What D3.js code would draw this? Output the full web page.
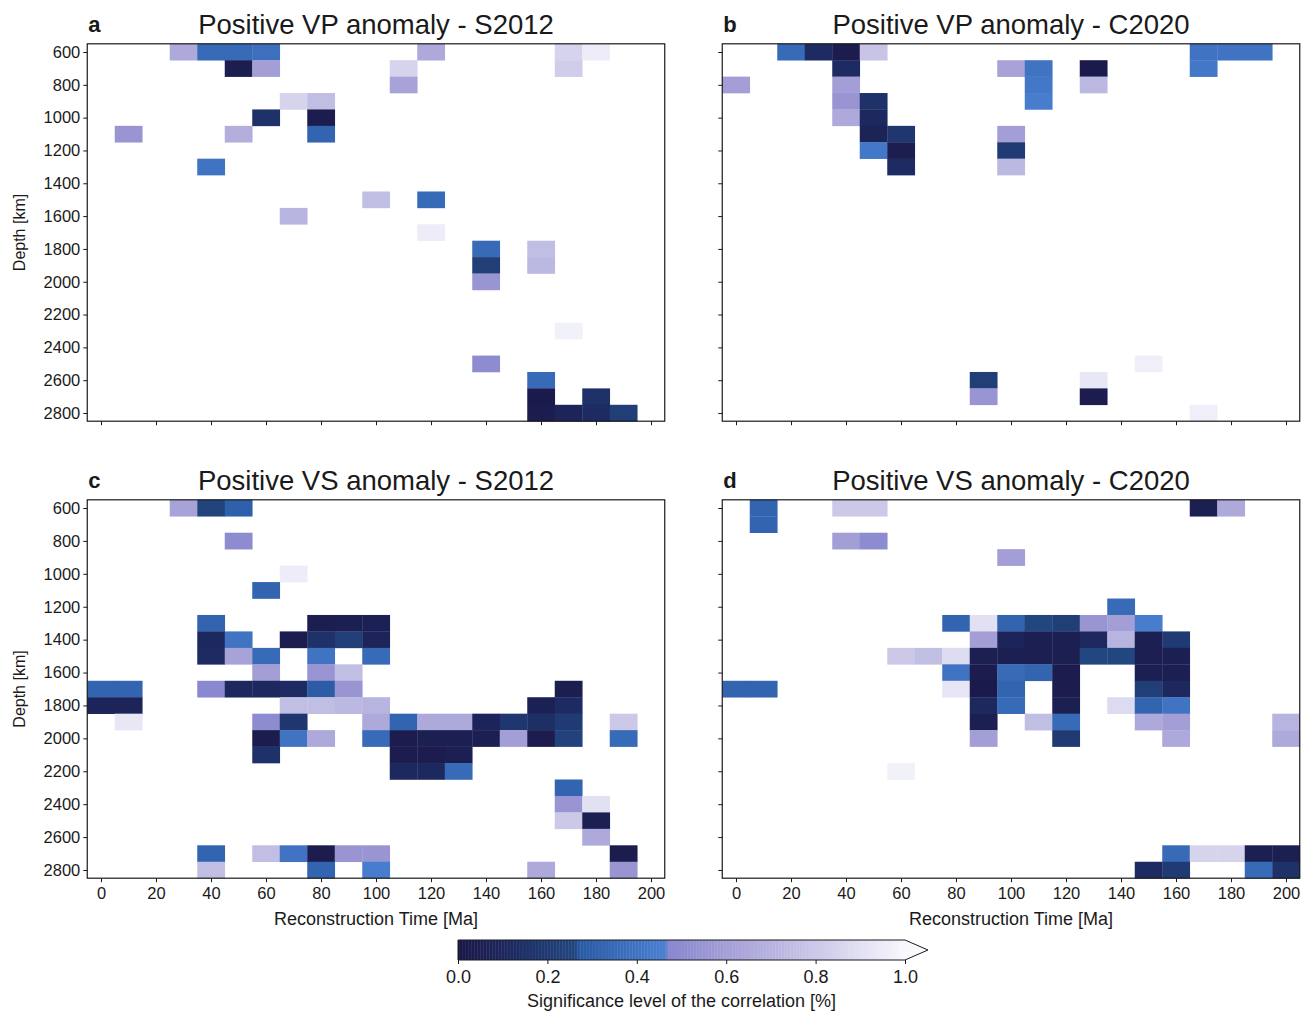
<!DOCTYPE html>
<html>
<head>
<meta charset="utf-8">
<script src="https://cdn.jsdelivr.net/npm/d3@7"></script>
<style>
  html, body { margin: 0; padding: 0; background: #fff; }
  svg { display: block; }
  text { font-family: "Liberation Sans", Arial, Helvetica, sans-serif; fill: #1a1a1a; }
</style>
</head>
<body>
<svg id="chart" width="1303" height="1011"></svg>
<script>
// ---------------- data ----------------
const timeTicks = [0, 20, 40, 60, 80, 100, 120, 140, 160, 180, 200];
const depthTicks = [600, 800, 1000, 1200, 1400, 1600, 1800, 2000, 2200, 2400, 2600, 2800];
const cbarTicks = [0.0, 0.2, 0.4, 0.6, 0.8, 1.0];
const panelLetters = ["a", "b", "c", "d"];
const panelTitles = [
  "Positive VP anomaly - S2012",
  "Positive VP anomaly - C2020",
  "Positive VS anomaly - S2012",
  "Positive VS anomaly - C2020"
];
// cells: [reconstruction time (Ma), depth (km), significance level]
const cellsA = [
  [30,600,0.65],[40,600,0.35],[50,600,0.35],[60,600,0.38],
  [50,700,0.04],[60,700,0.6],
  [70,900,0.85],[80,900,0.75],
  [60,1000,0.15],[80,1000,0.03],
  [10,1100,0.55],[50,1100,0.68],[80,1100,0.32],
  [40,1300,0.4],
  [100,1500,0.75],[120,1500,0.35],
  [70,1600,0.7],
  [120,600,0.65],[110,700,0.85],[110,800,0.62],
  [170,600,0.85],[170,700,0.82],[180,600,0.95],
  [120,1700,0.95],[170,2300,0.97],
  [140,1800,0.35],[140,1900,0.22],[140,2000,0.55],
  [160,1800,0.75],[160,1900,0.72],
  [140,2500,0.5],
  [160,2600,0.35],[160,2700,0.02],[180,2700,0.15],
  [160,2800,0.03],[170,2800,0.08],[180,2800,0.12],[190,2800,0.22]
];
const cellsB = [
  [20,600,0.35],[30,600,0.12],[40,600,0.03],[50,600,0.78],
  [40,700,0.12],
  [0,800,0.6],[40,800,0.6],
  [40,900,0.55],[50,900,0.15],
  [40,1000,0.65],[50,1000,0.1],
  [50,1100,0.07],[60,1100,0.18],
  [50,1200,0.42],[60,1200,0.04],
  [60,1300,0.12],
  [100,700,0.62],[110,700,0.4],[110,800,0.42],[110,900,0.45],
  [130,700,0.02],[130,800,0.72],
  [100,1100,0.6],[100,1200,0.2],[100,1300,0.72],
  [170,600,0.4],[180,600,0.4],[190,600,0.4],[170,700,0.42],
  [90,2600,0.22],[90,2700,0.55],
  [130,2600,0.93],[130,2700,0.03],
  [150,2500,0.96],[170,2800,0.96]
];
const cellsC = [
  [30,600,0.62],[40,600,0.25],[50,600,0.3],
  [50,800,0.5],
  [70,1000,0.95],
  [60,1100,0.32],
  [40,1300,0.32],[80,1300,0.04],[90,1300,0.05],[100,1300,0.06],
  [40,1400,0.1],[50,1400,0.4],[70,1400,0.03],[80,1400,0.15],[90,1400,0.22],[100,1400,0.08],
  [40,1500,0.12],[50,1500,0.62],[60,1500,0.35],[80,1500,0.4],[100,1500,0.35],
  [60,1600,0.6],[80,1600,0.55],[90,1600,0.75],
  [0,1700,0.32],[10,1700,0.32],[40,1700,0.48],[50,1700,0.1],[60,1700,0.1],[70,1700,0.12],[80,1700,0.28],[90,1700,0.55],[170,1700,0.04],
  [0,1800,0.08],[10,1800,0.08],[70,1800,0.75],[80,1800,0.75],[90,1800,0.72],[100,1800,0.7],[160,1800,0.06],[170,1800,0.12],
  [10,1900,0.93],[60,1900,0.5],[70,1900,0.18],[100,1900,0.65],[110,1900,0.32],[120,1900,0.65],[130,1900,0.65],[140,1900,0.08],[150,1900,0.18],[160,1900,0.14],[170,1900,0.2],[190,1900,0.8],
  [60,2000,0.03],[70,2000,0.4],[80,2000,0.65],[100,2000,0.35],[110,2000,0.03],[120,2000,0.05],[130,2000,0.05],[140,2000,0.05],[150,2000,0.6],[160,2000,0.03],[170,2000,0.24],[190,2000,0.35],
  [60,2100,0.15],[110,2100,0.03],[120,2100,0.03],[130,2100,0.05],
  [110,2200,0.1],[120,2200,0.1],[130,2200,0.35],
  [170,2300,0.32],
  [170,2400,0.55],[180,2400,0.9],
  [170,2500,0.8],[180,2500,0.05],
  [180,2600,0.65],
  [40,2700,0.32],[60,2700,0.75],[70,2700,0.4],[80,2700,0.03],[90,2700,0.55],[100,2700,0.55],[190,2700,0.03],
  [40,2800,0.75],[80,2800,0.32],[100,2800,0.45],[160,2800,0.65],[190,2800,0.55]
];
const cellsD = [
  [10,600,0.32],[40,600,0.8],[50,600,0.8],[170,600,0.05],[180,600,0.65],
  [10,700,0.32],
  [40,800,0.6],[50,800,0.5],
  [100,900,0.6],
  [140,1200,0.35],
  [80,1300,0.32],[90,1300,0.9],[100,1300,0.32],[110,1300,0.26],[120,1300,0.22],[130,1300,0.55],[140,1300,0.6],[150,1300,0.45],
  [90,1400,0.6],[100,1400,0.08],[110,1400,0.05],[120,1400,0.05],[130,1400,0.1],[140,1400,0.7],[150,1400,0.05],[160,1400,0.2],
  [60,1500,0.8],[70,1500,0.75],[80,1500,0.88],[90,1500,0.05],[100,1500,0.05],[110,1500,0.05],[120,1500,0.05],[130,1500,0.26],[140,1500,0.26],[150,1500,0.05],[160,1500,0.05],
  [80,1600,0.4],[90,1600,0.03],[100,1600,0.35],[110,1600,0.32],[120,1600,0.03],[150,1600,0.05],[160,1600,0.05],
  [0,1700,0.32],[10,1700,0.32],[80,1700,0.92],[90,1700,0.02],[100,1700,0.32],[120,1700,0.03],[150,1700,0.22],[160,1700,0.1],
  [90,1800,0.1],[100,1800,0.35],[120,1800,0.05],[140,1800,0.88],[150,1800,0.32],[160,1800,0.4],
  [90,1900,0.05],[110,1900,0.75],[120,1900,0.35],[150,1900,0.65],[160,1900,0.6],[200,1900,0.7],
  [90,2000,0.6],[120,2000,0.2],[160,2000,0.65],[200,2000,0.65],
  [60,2200,0.97],
  [160,2700,0.35],[170,2700,0.85],[180,2700,0.85],[190,2700,0.05],[200,2700,0.05],
  [150,2800,0.12],[160,2800,0.2],[190,2800,0.35],[200,2800,0.15]
];
const panelCells = [cellsA, cellsB, cellsC, cellsD];

// colour map (significance 0 -> 1)
const cmapStops = [0, 0.12, 0.26, 0.27, 0.46, 0.47, 0.6, 0.8, 1.0];
const cmapColors = ["#1b1747", "#1d2b62", "#22467f", "#2a5aa4", "#4a7fd0", "#8886cf", "#a39fd6", "#cbc8e8", "#f8f8fd"];
const color = d3.scaleLinear().domain(cmapStops).range(cmapColors).interpolate(d3.interpolateRgb).clamp(true);

// ---------------- layout ----------------
const svg = d3.select("#chart");
const panels = [
  {x0: 87.25, x1: 664.75, y0: 43.8, y1: 421.2, yLabels: true, xLabels: false},
  {x0: 722.25, x1: 1299.75, y0: 43.8, y1: 421.2, yLabels: false, xLabels: false},
  {x0: 87.25, x1: 664.75, y0: 499.8, y1: 878.2, yLabels: true, xLabels: true},
  {x0: 722.25, x1: 1299.75, y0: 499.8, y1: 878.2, yLabels: false, xLabels: true}
];
const FONT = '"Liberation Sans", Arial, sans-serif';

panels.forEach((p, i) => {
  const xs = d3.scaleLinear().domain([-5, 205]).range([p.x0, p.x1]);
  const ys = d3.scaleLinear().domain([550, 2850]).range([p.y0, p.y1]);
  const g = svg.append("g");

  g.append("g").selectAll("rect").data(panelCells[i]).join("rect")
    .attr("x", d => xs(d[0] - 5))
    .attr("y", d => ys(d[1] - 50))
    .attr("width", d => xs(d[0] + 5) - xs(d[0] - 5) + 0.3)
    .attr("height", d => ys(d[1] + 50) - ys(d[1] - 50) + 0.3)
    .attr("fill", d => color(d[2]));

  // frame
  g.append("rect").attr("x", p.x0).attr("y", p.y0)
    .attr("width", p.x1 - p.x0).attr("height", p.y1 - p.y0)
    .attr("fill", "none").attr("stroke", "#1a1a1a").attr("stroke-width", 1.2);

  // axes
  const yAxis = d3.axisLeft(ys).tickValues(depthTicks).tickSize(4).tickPadding(3)
    .tickFormat(p.yLabels ? d3.format("d") : () => "");
  const ya = g.append("g").attr("transform", `translate(${p.x0},0)`).call(yAxis);
  const xAxis = d3.axisBottom(xs).tickValues(timeTicks).tickSize(4).tickPadding(5)
    .tickFormat(p.xLabels ? d3.format("d") : () => "");
  const xa = g.append("g").attr("transform", `translate(0,${p.y1})`).call(xAxis);
  [ya, xa].forEach(a => {
    a.select(".domain").remove();
    a.selectAll(".tick line").attr("stroke", "#1a1a1a").attr("stroke-width", 1);
    a.selectAll(".tick text").attr("font-size", 16.5).attr("fill", "#1a1a1a")
      .style("font-family", FONT);
  });

  const cx = (p.x0 + p.x1) / 2;
  g.append("text").attr("x", cx).attr("y", p.y0 - 10).attr("text-anchor", "middle")
    .attr("font-size", 27.5).text(panelTitles[i]);
  g.append("text").attr("x", p.x0 + 1).attr("y", p.y0 - 12)
    .attr("font-size", 22).attr("font-weight", "bold").text(panelLetters[i]);

  if (p.yLabels) {
    g.append("text")
      .attr("transform", `translate(25,${(p.y0 + p.y1) / 2}) rotate(-90)`)
      .attr("text-anchor", "middle").attr("font-size", 16).text("Depth [km]");
  }
  if (p.xLabels) {
    g.append("text").attr("x", cx).attr("y", p.y1 + 47).attr("text-anchor", "middle")
      .attr("font-size", 18).text("Reconstruction Time [Ma]");
  }
});

// ---------------- colour bar ----------------
const cb = {x0: 458, x1: 905, y0: 940, y1: 960, tip: 928};
const cbx = d3.scaleLinear().domain([0, 1]).range([cb.x0, cb.x1]);
const cbg = svg.append("g");
const steps = d3.range(0, 1, 1 / 300);
cbg.selectAll("rect").data(steps).join("rect")
  .attr("x", d => cbx(d)).attr("y", cb.y0)
  .attr("width", cbx(1 / 300) - cbx(0) + 0.4).attr("height", cb.y1 - cb.y0)
  .attr("fill", d => color(d));
cbg.append("path")
  .attr("d", `M${cb.x1},${cb.y0} L${cb.tip},${(cb.y0 + cb.y1) / 2} L${cb.x1},${cb.y1} Z`)
  .attr("fill", color(1));
cbg.append("path")
  .attr("d", `M${cb.x0},${cb.y0} L${cb.x1},${cb.y0} L${cb.tip},${(cb.y0 + cb.y1) / 2} L${cb.x1},${cb.y1} L${cb.x0},${cb.y1} Z`)
  .attr("fill", "none").attr("stroke", "#1a1a1a").attr("stroke-width", 1);
const cbAxis = d3.axisBottom(cbx).tickValues(cbarTicks).tickSize(4).tickPadding(6).tickFormat(d3.format(".1f"));
const cba = cbg.append("g").attr("transform", `translate(0,${cb.y1})`).call(cbAxis);
cba.select(".domain").remove();
cba.selectAll(".tick line").attr("stroke", "#1a1a1a");
cba.selectAll(".tick text").attr("font-size", 18).attr("fill", "#1a1a1a")
  .style("font-family", FONT);
cbg.append("text").attr("x", (cb.x0 + cb.x1) / 2).attr("y", 1007).attr("text-anchor", "middle")
  .attr("font-size", 18).text("Significance level of the correlation [%]");
</script>
</body>
</html>
